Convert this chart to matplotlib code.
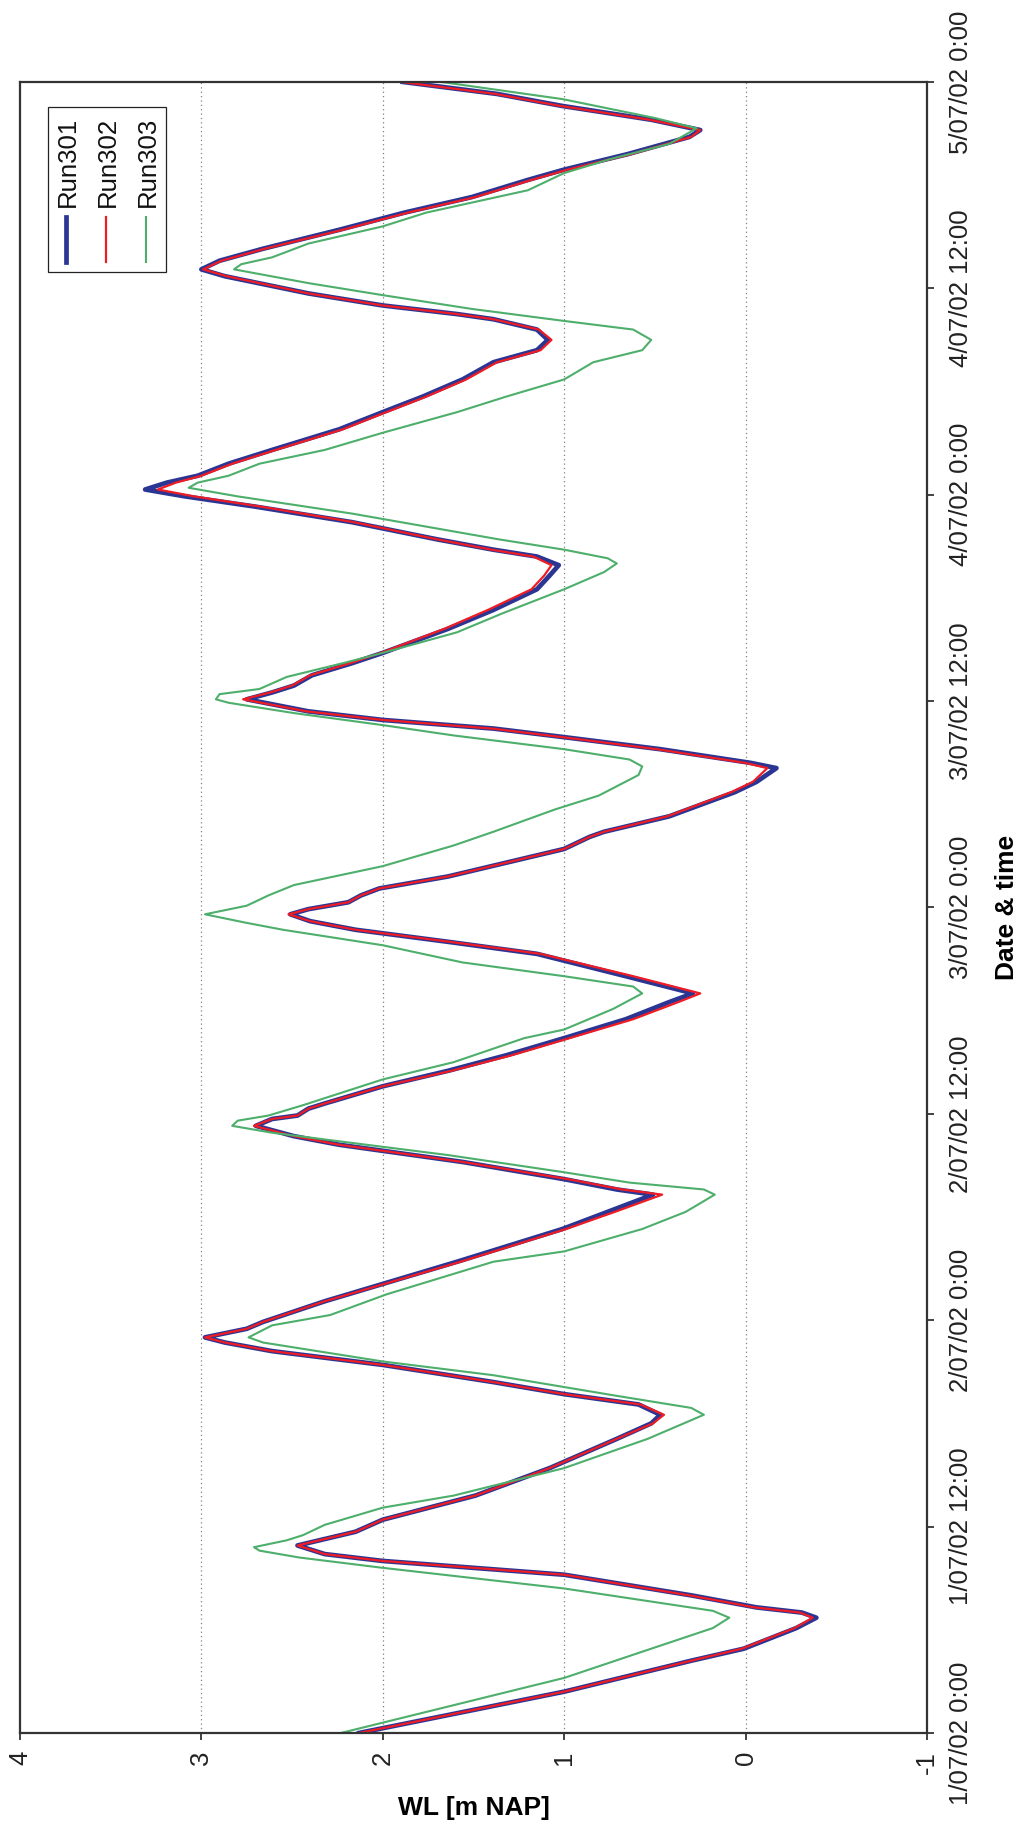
import numpy as np
import matplotlib.pyplot as plt
from matplotlib.lines import Line2D
from matplotlib.patches import Rectangle

plt.rcParams['font.family'] = ['Liberation Sans', 'DejaVu Sans']
plt.rcParams['axes.unicode_minus'] = False

# hours since 1/07/02 0:00
t_301 = [0, 2.4, 4.2, 4.9, 6.1, 6.7, 7.0, 7.3, 8.0, 9.2, 10.0, 10.4, 10.9, 11.4, 11.7, 12.4,
         13.8, 15.4, 17.1, 18.0, 18.5, 19.1, 19.7, 20.4, 21.4, 22.2, 22.7, 23.0, 23.5, 23.9,
         24.5, 25.1, 27.4, 29.3, 30.3, 31.3, 31.6, 32.2, 33.2, 34.2, 34.7, 35.3, 35.7, 35.9,
         36.3, 36.6, 37.6, 38.5, 39.4, 40.4, 41.5, 42.5, 43.0, 44.0, 45.3, 46.0, 46.7, 47.2,
         47.6, 47.9, 48.3, 48.7, 49.1, 49.8, 51.4, 52.1, 52.4, 53.3, 54.7, 55.3, 56.1, 56.4,
         57.2, 57.9, 58.4, 58.9, 59.4, 60.1, 60.5, 60.9, 61.5, 62.2, 62.8, 64.2, 65.3, 66.5,
         67.3, 67.9, 68.4, 68.8, 69.4, 70.4, 71.3, 71.9, 72.3, 72.7, 73.1, 73.8, 74.6, 75.8,
         76.8, 77.7, 78.7, 79.7, 80.4, 81.0, 81.6, 82.2, 82.5, 83.0, 83.7, 84.7, 85.1, 85.6,
         86.3, 87.4, 88.4, 89.3, 90.3, 90.9, 91.8, 92.8, 93.2, 93.8, 94.6, 95.3, 96.0]
wl_301 = [2.13, 1.00, 0.30, 0.01, -0.28, -0.39, -0.31, -0.06, 0.30, 1.00, 2.00, 2.32, 2.47, 2.27, 2.15, 2.00,
          1.49, 1.08, 0.71, 0.52, 0.47, 0.59, 1.00, 1.39, 2.00, 2.61, 2.87, 2.98, 2.75, 2.66,
          2.49, 2.32, 1.59, 1.01, 0.76, 0.51, 0.71, 1.00, 1.56, 2.24, 2.49, 2.70, 2.61, 2.47,
          2.41, 2.32, 2.00, 1.64, 1.32, 1.00, 0.66, 0.42, 0.29, 0.66, 1.15, 1.64, 2.15, 2.40,
          2.51, 2.41, 2.19, 2.12, 2.02, 1.64, 1.00, 0.86, 0.78, 0.42, 0.06, -0.06, -0.17, -0.03,
          0.47, 1.00, 1.39, 2.00, 2.41, 2.75, 2.61, 2.49, 2.39, 2.17, 2.00, 1.64, 1.39, 1.15,
          1.08, 1.03, 1.15, 1.39, 1.70, 2.17, 2.70, 3.09, 3.31, 3.19, 3.02, 2.85, 2.61, 2.24,
          2.00, 1.78, 1.56, 1.39, 1.15, 1.09, 1.15, 1.39, 1.59, 2.00, 2.41, 2.87, 3.00, 2.90,
          2.66, 2.24, 1.88, 1.51, 1.20, 1.00, 0.65, 0.31, 0.25, 0.52, 1.01, 1.37, 1.89]
# Run302 shares the Run301 output times
wl_302 = [2.13, 1.00, 0.30, 0.02, -0.27, -0.37, -0.30, -0.05, 0.31, 1.00, 2.00, 2.32, 2.47, 2.27, 2.15, 2.00,
          1.49, 1.08, 0.71, 0.51, 0.45, 0.58, 1.00, 1.39, 2.00, 2.61, 2.87, 2.98, 2.75, 2.66,
          2.49, 2.32, 1.57, 0.99, 0.72, 0.46, 0.68, 0.98, 1.56, 2.24, 2.49, 2.71, 2.61, 2.47,
          2.41, 2.32, 2.00, 1.62, 1.29, 0.97, 0.62, 0.37, 0.25, 0.62, 1.13, 1.63, 2.15, 2.40,
          2.52, 2.41, 2.19, 2.12, 2.02, 1.64, 1.00, 0.86, 0.78, 0.43, 0.08, -0.04, -0.12, 0.00,
          0.49, 1.01, 1.40, 2.00, 2.42, 2.77, 2.62, 2.50, 2.40, 2.18, 2.01, 1.66, 1.42, 1.18,
          1.11, 1.07, 1.17, 1.40, 1.70, 2.16, 2.67, 3.04, 3.24, 3.14, 3.00, 2.83, 2.59, 2.22,
          1.98, 1.76, 1.54, 1.37, 1.13, 1.07, 1.14, 1.39, 1.59, 2.00, 2.41, 2.86, 2.99, 2.89,
          2.65, 2.22, 1.86, 1.49, 1.18, 0.98, 0.63, 0.30, 0.25, 0.53, 1.02, 1.38, 1.90]

t_303 = [0, 3.2, 4.9, 6.1, 6.7, 7.1, 8.4, 9.6, 10.2, 10.6, 10.8, 11.2, 11.5, 12.1, 13.1, 13.8,
         15.4, 17.1, 18.5, 18.9, 19.6, 20.8, 21.6, 22.7, 23.0, 23.7, 24.3, 25.5, 27.4, 28.0,
         29.3, 30.3, 31.3, 31.6, 32.0, 32.6, 33.6, 34.4, 34.9, 35.3, 35.6, 35.9, 36.5, 38.0,
         39.0, 40.4, 40.9, 42.1, 43.0, 43.4, 44.0, 44.8, 45.8, 46.7, 47.1, 47.6, 48.1, 48.7,
         49.3, 50.4, 51.6, 52.4, 53.7, 54.5, 55.7, 56.2, 56.6, 57.2, 58.0, 58.6, 59.3, 59.9,
         60.1, 60.4, 60.7, 61.4, 62.2, 62.8, 64.0, 65.1, 66.5, 67.5, 68.0, 68.3, 68.8, 69.4,
         70.9, 71.9, 72.4, 72.7, 73.1, 73.8, 74.6, 75.6, 76.8, 77.7, 78.7, 79.7, 80.4, 81.0,
         81.6, 82.1, 82.8, 83.6, 84.3, 85.1, 85.4, 85.8, 86.6, 87.6, 88.4, 89.7, 90.7, 91.5,
         92.4, 93.3, 93.9, 95.0, 96.0]
wl_303 = [2.23, 1.00, 0.52, 0.18, 0.09, 0.18, 1.00, 2.00, 2.46, 2.68, 2.71, 2.53, 2.44, 2.32, 2.00, 1.61,
          1.00, 0.54, 0.23, 0.30, 0.71, 1.39, 2.00, 2.66, 2.74, 2.61, 2.29, 1.98, 1.39, 1.00,
          0.57, 0.33, 0.17, 0.23, 0.64, 1.00, 1.64, 2.24, 2.61, 2.83, 2.80, 2.63, 2.44, 2.00,
          1.61, 1.22, 1.00, 0.73, 0.57, 0.62, 1.00, 1.56, 2.00, 2.55, 2.75, 2.98, 2.75, 2.63,
          2.49, 2.00, 1.61, 1.39, 1.05, 0.81, 0.59, 0.57, 0.64, 1.00, 1.61, 2.00, 2.49, 2.85,
          2.92, 2.90, 2.68, 2.53, 2.22, 2.00, 1.59, 1.34, 1.00, 0.78, 0.71, 0.76, 1.00, 1.36,
          2.17, 2.80, 3.07, 3.02, 2.85, 2.68, 2.32, 2.00, 1.59, 1.32, 1.00, 0.84, 0.57, 0.52,
          0.62, 1.00, 1.51, 2.00, 2.41, 2.82, 2.78, 2.61, 2.41, 2.00, 1.76, 1.20, 1.00, 0.75,
          0.42, 0.27, 0.50, 1.01, 1.68]

time_ticks = [0, 12, 24, 36, 48, 60, 72, 84, 96]
time_labels = ['1/07/02 0:00', '1/07/02 12:00', '2/07/02 0:00', '2/07/02 12:00', '3/07/02 0:00',
               '3/07/02 12:00', '4/07/02 0:00', '4/07/02 12:00', '5/07/02 0:00']
wl_ticks = [4, 3, 2, 1, 0, -1]
run_names = ['Run301', 'Run302', 'Run303']
run_colors = ['#2b3593', '#ee1d25', '#4daf6b']
run_widths = [3.4, 1.6, 1.5]

fig = plt.figure(figsize=(10.30, 18.28), dpi=100)
ax = fig.add_axes([0.0194, 0.052, 0.8806, 0.9032])

# chart is drawn turned on its side: water level across, time upwards
ax.plot(wl_301, t_301, color=run_colors[0], lw=run_widths[0], solid_joinstyle='round')
ax.plot(wl_302, t_301, color=run_colors[1], lw=run_widths[1], solid_joinstyle='round')
ax.plot(wl_303, t_303, color=run_colors[2], lw=run_widths[2], solid_joinstyle='round')

ax.set_xlim(4, -1)
ax.set_ylim(0, 96)
for v in [3, 2, 1, 0]:
    ax.axvline(v, color='#808080', lw=0.9, ls=(0, (1, 2.5)), zorder=0)

ax.set_xticks(wl_ticks)
ax.set_xticklabels([str(v) for v in wl_ticks], rotation=90)
ax.set_yticks(time_ticks)
ax.set_yticklabels(time_labels, rotation=90, va='center')
ax.yaxis.tick_right()
ax.tick_params(axis='both', direction='out', length=5, width=1.2, labelsize=18.5, colors='#222222')
ax.tick_params(axis='x', pad=8)
ax.tick_params(axis='y', pad=11)

for s in ax.spines.values():
    s.set_linewidth(1.6)
    s.set_color('#333333')

ax.set_xlabel('WL [m NAP]', fontsize=19, fontweight='bold')
ax.xaxis.set_label_coords(0.5, -0.038)
ax.yaxis.set_label_position('right')
ax.set_ylabel('Date & time', fontsize=19, fontweight='bold', rotation=90)
ax.yaxis.set_label_coords(1.075, 0.5)

# legend, rotated with the chart
ax.add_patch(Rectangle((0.031, 0.885), 0.130, 0.100, transform=ax.transAxes,
                       facecolor='white', edgecolor='#222222', lw=0.9, zorder=5))
leg_x = [0.0507, 0.0948, 0.1389]
for i in range(3):
    ax.add_line(Line2D([leg_x[i], leg_x[i]], [0.891, 0.918], transform=ax.transAxes,
                       color=run_colors[i], lw=run_widths[i], zorder=6))
    ax.text(leg_x[i] + 0.002, 0.924, run_names[i], transform=ax.transAxes, rotation=90,
            ha='center', va='bottom', fontsize=18.5, color='#111111', zorder=6)

fig.savefig('out.png', dpi=100)
